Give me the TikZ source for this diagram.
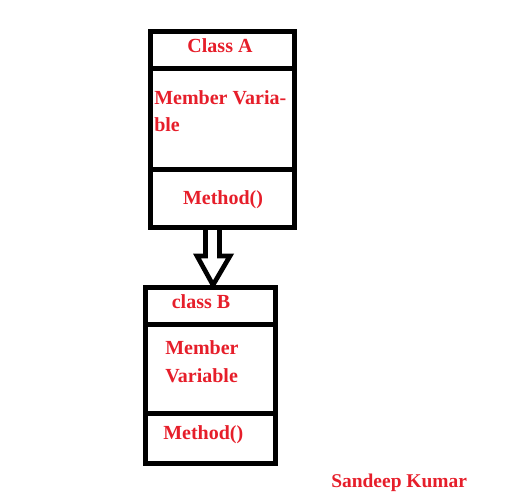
\documentclass[tikz,border=0pt]{standalone}
\usepackage{fontspec}
\setmainfont{Liberation Serif}[BoldFont={Liberation Serif Bold}]
\newfontfamily\tnrb{Liberation Serif Bold}
\definecolor{txtred}{RGB}{230,30,42}
\begin{document}
\begin{tikzpicture}[x=0.75pt,y=-0.75pt,
  box/.style={draw=black,line width=3.75pt,rectangle,inner sep=0pt,outer sep=0pt},
  divider/.style={draw=black,line width=3.75pt},
  inherit/.style={draw=black,line width=3.5pt,line join=miter},
  lbl/.style={text=txtred,font=\tnrb\fontsize{15pt}{17pt}\selectfont,inner sep=0pt,anchor=base west},
  lblc/.style={lbl,anchor=base}]
\useasboundingbox (0,0) rectangle (507,498);
% class A
\node[box,minimum width=108pt,minimum height=147pt] (A) at (222,130) {};
\draw[divider] (150,68.5) -- (294,68.5);
\draw[divider] (150,170) -- (294,170);
\node[lblc] (Aname) at (220,53) {Class A};
\node[lbl] (Avar1) at (154,105) {Member Varia-};
\node[lbl] (Avar2) at (154,132) {ble};
\node[lblc] (Ameth) at (223,205) {Method()};
% class B
\node[box,minimum width=97.5pt,minimum height=132pt] (B) at (210,376) {};
\draw[divider] (145,324.5) -- (275,324.5);
\draw[divider] (145,413.5) -- (278,413.5);
\node[lblc] (Bname) at (201,309) {class B};
\node[lbl] (Bvar1) at (165,355) {Member};
\node[lbl] (Bvar2) at (165,383) {Variable};
\node[lbl] (Bmeth) at (163,440) {Method()};
% inheritance arrow
\coordinate (tip) at (213,285);
\draw[inherit] (205.5,228) -- (205.5,256) -- (197,256) -- (tip) -- (230,256) -- (219.5,256) -- (219.5,228);
% author
\node[lbl,font=\tnrb\fontsize{14.6pt}{17pt}\selectfont] (author) at (331,488) {Sandeep Kumar};
\end{tikzpicture}
\end{document}
